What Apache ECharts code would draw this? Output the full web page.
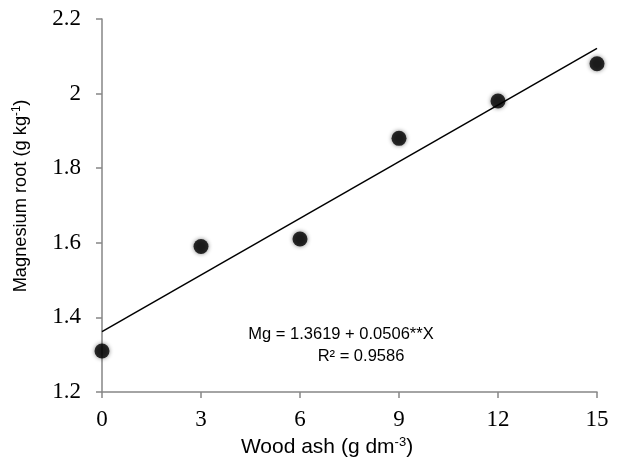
<!DOCTYPE html>
<html>
<head>
<meta charset="utf-8">
<script src="https://cdn.jsdelivr.net/npm/echarts@6/dist/echarts.min.js"></script>
<style>html,body{margin:0;padding:0;background:#fff}#c{width:620px;height:457px}</style>
</head>
<body>
<div id="c"></div>
<script>
var woodAsh = [0, 3, 6, 9, 12, 15];
var magnesium = [1.31, 1.59, 1.61, 1.88, 1.98, 2.08];
var trendX = [0, 15];
var trendY = [1.362, 2.121];
var xTicks = [0, 3, 6, 9, 12, 15];
var yTicks = [1.2, 1.4, 1.6, 1.8, 2, 2.2];
var equationText = 'Mg = 1.3619 + 0.0506**X';
var r2Text = 'R² = 0.9586';

var chart = echarts.init(document.getElementById('c'), null, {renderer: 'canvas'});
var axisColor = '#868686';
var serif = '"Liberation Serif", "Times New Roman", serif';
var sans = '"Liberation Sans", Arial, sans-serif';

chart.setOption({
  animation: false,
  backgroundColor: '#ffffff',
  grid: {left: 102, right: 23, top: 19, bottom: 65, containLabel: false},
  xAxis: {
    type: 'value', min: xTicks[0], max: xTicks[xTicks.length - 1], interval: 3,
    axisLine: {show: true, onZero: false, lineStyle: {color: axisColor, width: 1.5}},
    axisTick: {show: true, inside: false, length: 6, lineStyle: {color: axisColor, width: 1.5}},
    axisLabel: {color: '#000', fontFamily: serif, fontSize: 23, margin: 16},
    splitLine: {show: false}
  },
  yAxis: {
    type: 'value', min: yTicks[0], max: yTicks[yTicks.length - 1], interval: 0.2,
    axisLine: {show: true, onZero: false, lineStyle: {color: axisColor, width: 1.5}},
    axisTick: {show: true, inside: false, length: 6, lineStyle: {color: axisColor, width: 1.5}},
    axisLabel: {color: '#000', fontFamily: serif, fontSize: 23, margin: 21},
    splitLine: {show: false}
  },
  graphic: [
    {
      type: 'text', x: 21, y: 196, rotation: Math.PI / 2, scaleX: 0.96,
      style: {
        text: '{a|Magnesium root (g kg}{s|-1}{a|)}',
        textAlign: 'center', textVerticalAlign: 'middle',
        rich: {
          a: {fontFamily: sans, fontSize: 19, fill: '#000'},
          s: {fontFamily: sans, fontSize: 12, fill: '#000', padding: [0, 0, 9, 0]}
        }
      }
    },
    {
      type: 'text', x: 327, y: 447,
      style: {
        text: '{a|Wood ash (g dm}{s|-3}{a|)}',
        textAlign: 'center', textVerticalAlign: 'middle',
        rich: {
          a: {fontFamily: sans, fontSize: 21, fill: '#000'},
          s: {fontFamily: sans, fontSize: 13, fill: '#000', padding: [0, 0, 10, 0]}
        }
      }
    },
    {
      type: 'text', x: 341, y: 334,
      style: {text: equationText, fontFamily: sans, fontSize: 16.5, fill: '#000', textAlign: 'center', textVerticalAlign: 'middle'}
    },
    {
      type: 'text', x: 361, y: 356,
      style: {text: r2Text, fontFamily: sans, fontSize: 16.5, fill: '#000', textAlign: 'center', textVerticalAlign: 'middle'}
    }
  ],
  series: [
    {
      type: 'line',
      data: trendX.map(function (x, i) { return [x, trendY[i]]; }),
      symbol: 'none',
      lineStyle: {color: '#000', width: 1.5},
      z: 2
    },
    {
      type: 'scatter',
      data: woodAsh.map(function (x, i) { return [x, magnesium[i]]; }),
      symbol: 'circle', symbolSize: 15,
      itemStyle: {color: '#000', shadowBlur: 4, shadowColor: 'rgba(0,0,0,0.6)'},
      z: 3
    }
  ]
});
</script>
</body>
</html>
